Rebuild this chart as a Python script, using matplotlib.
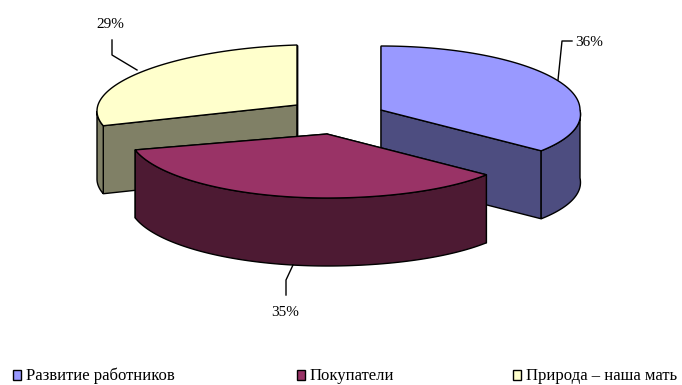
"""
Exploded 3D-style pie of three shares, built from extruded elliptical wedges.
"""

import numpy as np
import matplotlib.pyplot as plt
from matplotlib.patches import Polygon, Rectangle

plt.rcParams["font.family"] = ["Liberation Serif", "DejaVu Serif"]

categories = ["Развитие работников", "Покупатели", "Природа – наша мать"]
values = [36, 35, 29]
value_labels = ["36%", "35%", "29%"]

top_colors = ["#9999FF", "#993366", "#FFFFCC"]
side_colors = ["#4D4D80", "#4D1A33", "#808066"]

# per-slice apex, radii and a small skew that fakes the perspective
apex = [(381, 110), (327, 134), (297, 105)]
radii = [(199, 64), (198, 64), (200, 60)]
skew = [0.0, 0.0, -0.03]
depth = 68

legend_x = [13, 297, 513]
LW = 1.0


def rim_point(center, r, sk, t):
    # t in degrees, clockwise from the back of the ellipse
    t = np.radians(t)
    dx = r[0] * np.sin(t)
    # the near right quarter comes out a little wider
    near_right = (np.sin(t) > 0) & (np.cos(t) < 0)
    dx = np.where(near_right, dx * (1 - 0.07 * np.cos(t)), dx)
    dy = -r[1] * np.cos(t) + sk * dx
    return np.column_stack([center[0] + dx, center[1] + dy])


def draw_slice(ax, center, r, sk, a0, a1, top, side):
    c = np.array([center])
    drop = np.array([0, depth])

    # cut faces first, the rim and the top paint over whichever face away
    for a in (a0, a1):
        p = rim_point(center, r, sk, np.array([a]))
        face = np.vstack([c, p, p + drop, c + drop])
        ax.add_patch(Polygon(face, facecolor=side, edgecolor="black", lw=LW))

    lo, hi = max(a0, 90), min(a1, 270)
    if hi > lo:
        arc = rim_point(center, r, sk, np.linspace(lo, hi, 120))
        face = np.vstack([arc, arc[::-1] + drop])
        ax.add_patch(Polygon(face, facecolor=side, edgecolor="black", lw=LW))

    arc = rim_point(center, r, sk, np.linspace(a0, a1, 160))
    ax.add_patch(Polygon(np.vstack([c, arc]), facecolor=top, edgecolor="black", lw=LW))


fig = plt.figure(figsize=(6.82, 3.85), dpi=100)
ax = fig.add_axes([0, 0, 1, 1])
ax.set_xlim(0, 682)
ax.set_ylim(385, 0)
ax.axis("off")

edges = np.concatenate([[0], np.cumsum(values)]) / np.sum(values) * 360

# back slices first, the front one last
for i in (2, 0, 1):
    draw_slice(ax, apex[i], radii[i], skew[i], edges[i], edges[i + 1], top_colors[i], side_colors[i])

# leader lines and percentages
ax.plot([558, 562, 572], [80, 41, 41], color="black", lw=LW)
ax.plot([293, 286, 286], [265, 280, 295], color="black", lw=LW)
ax.plot([112, 112, 137], [40, 55, 70], color="black", lw=LW)

ax.text(575, 42, value_labels[0], fontsize=11, ha="left", va="center")
ax.text(285, 313, value_labels[1], fontsize=11, ha="center", va="center")
ax.text(110, 24, value_labels[2], fontsize=11, ha="center", va="center")

# legend row along the bottom edge
for x, name, color in zip(legend_x, categories, top_colors):
    ax.add_patch(Rectangle((x, 370), 8, 10, facecolor=color, edgecolor="black", lw=LW))
    ax.text(x + 13, 376, name, fontsize=12, ha="left", va="center")

fig.savefig("out.png", dpi=100)
